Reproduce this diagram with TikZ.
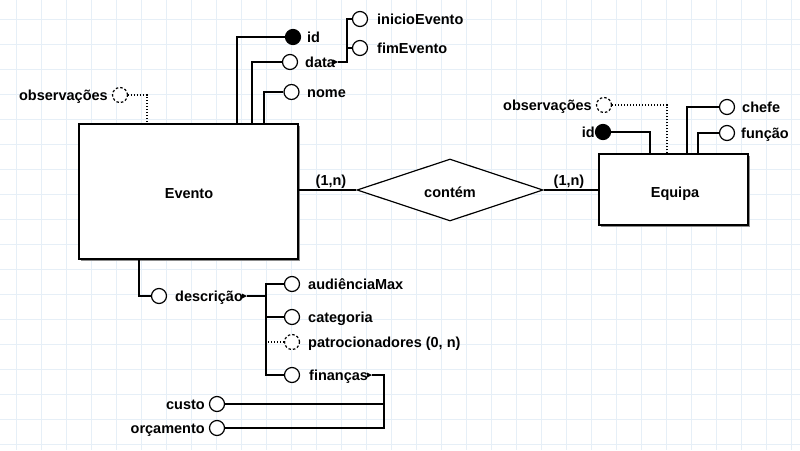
\documentclass[tikz,border=0pt]{standalone}
\usepackage{fontspec}
\setmainfont{Liberation Sans}
\usetikzlibrary{shapes.geometric,shadows}
\definecolor{gridc}{RGB}{230,239,247}
\begin{document}
\begin{tikzpicture}[x=1pt,y=-1pt,
  attr/.style={circle, draw, line width=1.2pt, minimum size=15pt, inner sep=0pt, fill=white},
  keyattr/.style={attr, fill=black},
  optattr/.style={attr, dash pattern=on 2.5pt off 2pt},
  lab/.style={inner sep=0pt, font=\bfseries\fontsize{14.5}{17}\selectfont, text height=10.5pt, text depth=0pt},
  ent/.style={draw, line width=1.8pt, fill=white, inner sep=0pt, drop shadow={shadow xshift=1.5pt, shadow yshift=-1.5pt, fill=black!45, opacity=1}},
  rel/.style={diamond, draw, line width=1.2pt, fill=white, inner sep=0pt, minimum width=186pt, minimum height=62pt},
  conn/.style={line width=1.2pt},
  dots/.style={line width=1.2pt, dash pattern=on 1pt off 2pt},
  mk/.style={fill=black}
]
\useasboundingbox (0,0) rectangle (800,450);
\fill[white] (0,0) rectangle (800,450);
\foreach \x in {16,41,...,791} \draw[gridc, line width=1pt] (\x,0) -- (\x,450);
\foreach \y in {19,44,...,444} \draw[gridc, line width=1pt] (0,\y) -- (800,\y);

% entities and relation
\node[ent, minimum width=219pt, minimum height=135pt] (evento) at (188.5,191.5) {};
\node[lab] (eventol) at (189,193) {Evento};
\node[ent, minimum width=149pt, minimum height=71pt] (equipa) at (673.5,189.5) {};
\node[lab] (equipal) at (675,192) {Equipa};
\node[rel] (contem) at (450,190) {};
\node[lab] (conteml) at (450,192) {contém};
\node[lab] (card1) at (331,180) {(1,n)};
\node[lab] (card2) at (569,180) {(1,n)};

\draw[conn] (contem.west) -- (contem.west -| evento.east);
\draw[conn] (contem.east) -- (contem.east -| equipa.west);

% Evento attributes (top)
\coordinate (eobs) at (147,124);
\coordinate (eid) at (237,124);
\coordinate (edata) at (252,124);
\coordinate (enome) at (264,124);

\node[optattr] (obs1) at (120,95) {};
\node[lab, anchor=east] (obs1l) at (108,95) {observações};
\draw[dots] (obs1.east) -| (eobs);

\node[keyattr] (id1) at (293,37) {};
\node[lab, anchor=west] (id1l) at (307,37) {id};
\draw[conn] (id1.west) -| (eid);

\node[attr] (data) at (290,62) {};
\node[lab, anchor=west] (datal) at (305,62) {data};
\draw[conn] (data.west) -| (edata);

\node[attr] (nome) at (291.5,92) {};
\node[lab, anchor=west] (nomel) at (307,92) {nome};
\draw[conn] (nome.west) -| (enome);

\coordinate (dmk) at (333,62);
\coordinate (dtip) at (338,62);
\coordinate (dbus) at (347,62);
\fill[mk] (dmk) ++(0,-2.5) -- ++(5,2.5) -- ++(-5,2.5) -- cycle;
\node[attr] (ini) at (360,19) {};
\node[lab, anchor=west] (inil) at (377,19) {inicioEvento};
\node[attr] (fim) at (360,48) {};
\node[lab, anchor=west] (fiml) at (377,48) {fimEvento};
\draw[conn] (dtip) -- (dbus) |- (ini.west);
\draw[conn] (fim.west) -- (fim.west -| dbus);

% Evento attributes (bottom)
\coordinate (ebot) at (139,259);
\node[attr] (desc) at (159,296) {};
\node[lab, anchor=west] (descl) at (175,296) {descrição};
\draw[conn] (ebot) |- (desc.west);
\coordinate (smk) at (242,296);
\coordinate (stip) at (247,296);
\coordinate (sbus) at (266,296);
\fill[mk] (smk) ++(0,-2.5) -- ++(5,2.5) -- ++(-5,2.5) -- cycle;

\node[attr] (aud) at (292,284) {};
\node[lab, anchor=west] (audl) at (308,284) {audiênciaMax};
\node[attr] (cat) at (292,317) {};
\node[lab, anchor=west] (catl) at (308,317) {categoria};
\node[optattr] (pat) at (292,342) {};
\node[lab, anchor=west] (patl) at (308,342) {patrocionadores (0, n)};
\node[attr] (fin) at (292,375) {};
\node[lab, anchor=west] (finl) at (309,375) {finanças};

\draw[conn] (stip) -- (sbus);
\draw[conn] (aud.west) -| (sbus) |- (fin.west);
\draw[conn] (cat.west) -- (cat.west -| sbus);
\draw[dots] (pat.west) -- (pat.west -| sbus);

\coordinate (fmk) at (367,375);
\coordinate (ftip) at (372,375);
\coordinate (fbus) at (384,375);
\fill[mk] (fmk) ++(0,-2.5) -- ++(5,2.5) -- ++(-5,2.5) -- cycle;

\node[attr] (custo) at (217,404) {};
\node[lab, anchor=east] (custol) at (205,404) {custo};
\node[attr] (orc) at (217,428) {};
\node[lab, anchor=east] (orcl) at (205,428) {orçamento};
\draw[conn] (ftip) -- (fbus) |- (orc.east);
\draw[conn] (custo.east) -- (custo.east -| fbus);

% Equipa attributes
\coordinate (qobs) at (667,154);
\coordinate (qid) at (650,154);
\coordinate (qch) at (687,154);
\coordinate (qfu) at (698,154);

\node[optattr] (obs2) at (604,105) {};
\node[lab, anchor=east] (obs2l) at (592,105) {observações};
\draw[dots] (obs2.east) -| (qobs);

\node[keyattr] (id2) at (603,132) {};
\node[lab, anchor=east] (id2l) at (595,132) {id};
\draw[conn] (id2.east) -| (qid);

\node[attr] (chefe) at (727,107) {};
\node[lab, anchor=west] (chefel) at (742,107) {chefe};
\draw[conn] (chefe.west) -| (qch);

\node[attr] (funcao) at (727,133) {};
\node[lab, anchor=west] (funcaol) at (741,133) {função};
\draw[conn] (funcao.west) -| (qfu);
\end{tikzpicture}
\end{document}
